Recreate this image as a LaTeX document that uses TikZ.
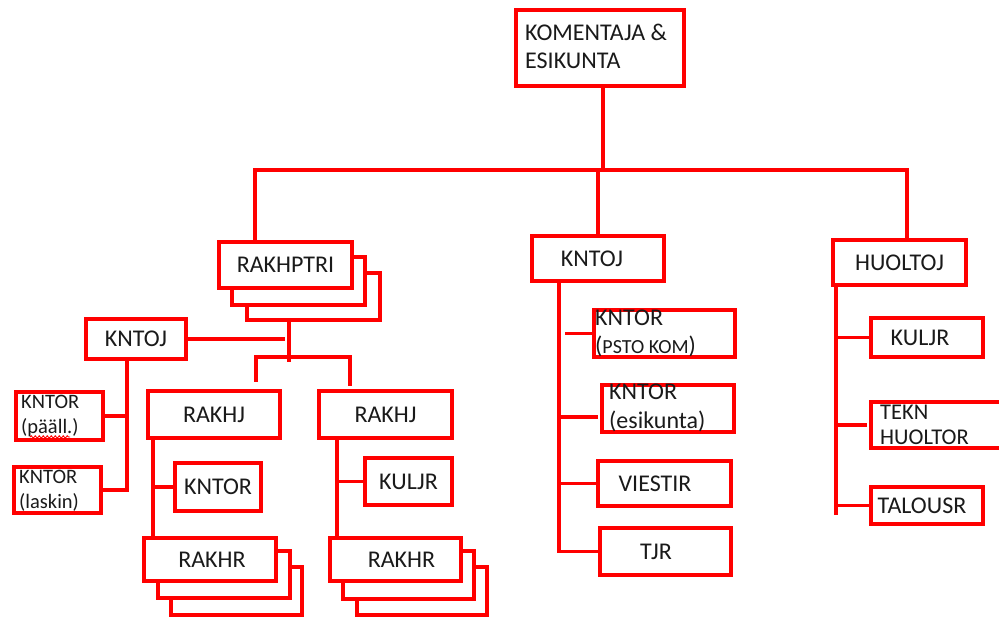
\documentclass[tikz,border=0pt]{standalone}
\usepackage{fontspec}
\setmainfont{Carlito}
\usetikzlibrary{calc,decorations.pathmorphing}
\definecolor{orgred}{HTML}{FF0000}
\definecolor{ink}{HTML}{1A1A1A}
\begin{document}
\begin{tikzpicture}[x=1pt,y=-1pt,
  big/.style={font=\fontsize{24}{28}\selectfont},
  small/.style={font=\fontsize{20.5}{25}\selectfont},
  orgbox/.style={draw=orgred, line width=4pt, fill=white, inner sep=0pt, text=ink, big},
  sized/.style 2 args={minimum width=#1-4, minimum height=#2-4},
  link/.style={draw=orgred, line width=3.8pt, line cap=rect},
  lbl/.style={text=ink, inner sep=0pt, align=left, anchor=west},
]
\useasboundingbox (0,0) rectangle (999,620);
\clip (0,0) rectangle (999,620);
\fill[white] (0,0) rectangle (999,620);

% ---- top level ----
\node[orgbox, sized={172}{80}] (hq) at (600,48) {};
\node[lbl, big] at (525,46) {KOMENTAJA \&\\ESIKUNTA};

% ---- RAKHPTRI (stacked) ----
\node[orgbox, sized={137}{51}] (rp3) at (313.5,296.5) {};
\node[orgbox, sized={137}{52}] (rp2) at (298.5,281) {};
\node[orgbox, sized={137}{50}] (rp) at (285.5,265) {RAKHPTRI};

\node[orgbox, sized={104}{44}] (kntojL) at (136,339) {KNTOJ};
\node[orgbox, sized={91}{52}] (kntorP) at (59.5,416) {};
\node[lbl, small] at (21,416) {KNTOR\\(pääll.)};
\draw[orgred, line width=0.9pt, decorate,
      decoration={snake, amplitude=1.2pt, segment length=4pt}] (30,437) -- (70,437);
\node[orgbox, sized={91}{50}] (kntorQ) at (57.5,490) {};
\node[lbl, small] at (19,491) {KNTOR\\(laskin)};

\node[orgbox, sized={136}{51}] (rakhjL) at (214,414.5) {RAKHJ};
\node[orgbox, sized={137}{51}] (rakhjR) at (385.5,414.5) {RAKHJ};
\node[orgbox, sized={90}{52}] (kntorL) at (218,487) {KNTOR};
\node[orgbox, sized={91}{51}] (kuljrL) at (408.5,481.5) {KULJR};

\node[orgbox, sized={135}{52}] (rl3) at (236.5,591) {};
\node[orgbox, sized={136}{51}] (rl2) at (224,574.5) {};
\node[orgbox, sized={136}{47}] (rl) at (210,559.5) {\hspace*{4pt}RAKHR};

\node[orgbox, sized={134}{52}] (rr3) at (422,591) {};
\node[orgbox, sized={135}{52}] (rr2) at (408.5,575) {};
\node[orgbox, sized={135}{47}] (rr) at (395.5,559.5) {\hspace*{12pt}RAKHR};

% ---- KNTOJ (middle) ----
\node[orgbox, sized={136}{49}] (kntojM) at (598,258.5) {\hspace*{-12pt}KNTOJ};
\node[orgbox, sized={145}{51}] (psto) at (664.5,333.5) {};
\node[lbl, big] at (595,333) {KNTOR\\({\fontsize{20}{28}\selectfont PSTO KOM})};
\node[orgbox, sized={136}{51}] (esk) at (668,408.5) {};
\node[lbl, big, font=\fontsize{24}{29}\selectfont] at (609,408) {KNTOR\\(esikunta)};
\node[orgbox, sized={137}{49}] (viestir) at (664.5,483.5) {\hspace*{-19pt}VIESTIR};
\node[orgbox, sized={135}{51}] (tjr) at (665.5,551.5) {\hspace*{-19pt}TJR};

% ---- HUOLTOJ (right) ----
\node[orgbox, sized={137}{49}] (huoltoj) at (899.5,262.5) {HUOLTOJ};
\node[orgbox, sized={116}{43}] (kuljrR) at (927,337.5) {\hspace*{-14pt}KULJR};
\node[orgbox, sized={141}{50}] (tekn) at (939.5,425) {};
\node[lbl, font=\fontsize{22.5}{25}\selectfont] at (880,425) {TEKN\\HUOLTOR};
\node[orgbox, sized={116}{41}] (talousr) at (927,505.5) {\hspace*{-10pt}TALOUSR};

% ---- main bus ----
\coordinate (hub) at (603,170);
\coordinate (busL) at (255,170);
\coordinate (busR) at (907,170);
\draw[link] (hq.south -| hub) -- (hub);
\draw[link] (busL) -- (busR);
\draw[link] (busL) -- (busL |- rp.north);
\draw[link] (kntojM.north |- hub) -- (kntojM.north);
\draw[link] (busR) -- (busR |- huoltoj.north);

% ---- under RAKHPTRI ----
\coordinate (rpj) at (289,357);
\coordinate (rjL) at (256,357);
\coordinate (rjR) at (350,357);
\path (rpj) ++(0,3) coordinate (rpjEnd);
\draw[link] (rp3.south -| rpj) -- (rpjEnd);
\draw[link, shorten >=6pt] (kntojL.east) -- (kntojL.east -| rpj);
\draw[link] (rjL) -- (rjR);
\draw[link, shorten >=9pt] (rjL) -- (rjL |- rakhjL.north);
\draw[link, shorten >=5pt] (rjR) -- (rjR |- rakhjR.north);

% ---- left KNTOJ ----
\coordinate (tK) at ([xshift=-9pt]kntojL.south);
\draw[link] (tK) -- (tK |- kntorQ.east);
\draw[link] (kntorP.east) -- (kntorP.east -| tK);
\draw[link] (kntorQ.east) -- (kntorQ.east -| tK);

% ---- RAKHJ trunks ----
\coordinate (tL) at ([xshift=7pt]rakhjL.south west);
\draw[link] (tL) -- (tL |- rl.north);
\draw[link] (kntorL.west) -- (kntorL.west -| tL);
\coordinate (tR) at ([xshift=20pt]rakhjR.south west);
\draw[link] (tR) -- (tR |- rr.north);
\draw[link] (kuljrL.west) -- (kuljrL.west -| tR);

% ---- middle trunk ----
\coordinate (tM) at ([xshift=29pt]kntojM.south west);
\path (esk.west) ++(0,8.5) coordinate (eskIn);
\draw[link] (tM) -- (tM |- tjr.west);
\draw[link, shorten <=8pt] (psto.west -| tM) -- (psto.west);
\draw[link, shorten >=4pt] (eskIn -| tM) -- (eskIn);
\draw[link] (viestir.west -| tM) -- (viestir.west);
\draw[link] (tjr.west -| tM) -- (tjr.west);

% ---- right trunk ----
\coordinate (tH) at ([xshift=5pt]huoltoj.south west);
\path (talousr.west -| tH) ++(0,7.5) coordinate (tHend);
\draw[link] (tH) -- (tHend);
\draw[link] (kuljrR.west) -- (kuljrR.west -| tH);
\draw[link, shorten >=4pt] (tekn.west -| tH) -- (tekn.west);
\draw[link] (talousr.west) -- (talousr.west -| tH);
\end{tikzpicture}
\end{document}
